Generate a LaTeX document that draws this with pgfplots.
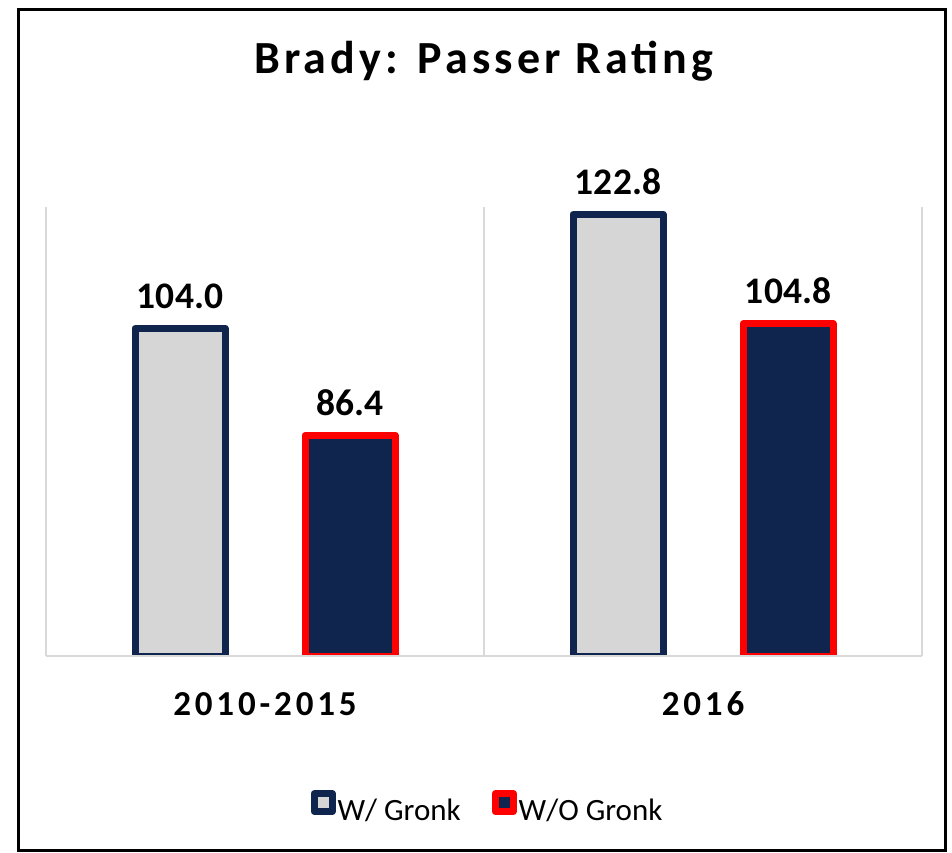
\documentclass[border=0pt]{standalone}
\usepackage{fontspec}
\setmainfont{Carlito}
\newfontfamily\spaced{Carlito}[LetterSpace=11]
\newfontfamily\titlespaced{Carlito}[LetterSpace=9]
\usepackage{pgfplots}
\usepackage{pgfplotstable}
\pgfplotsset{compat=1.18}
\definecolor{navy}{HTML}{10254E}
\definecolor{barfill}{HTML}{D6D6D6}
\definecolor{gridc}{HTML}{D9D9D9}
\pgfplotstableread{
x v
0 104.0
1 122.8
}\withgronk
\pgfplotstableread{
x v
0 86.4
1 104.8
}\withoutgronk
\begin{document}
\begin{tikzpicture}
\useasboundingbox (-46pt,-197pt) rectangle (906pt,656pt);
\draw[line width=3pt] (-27pt,646pt) rectangle (899pt,-194pt);
\begin{axis}[
  at={(0pt,0pt)}, anchor=south west,
  width=876pt, height=449pt, scale only axis,
  xmin=-0.5, xmax=1.5, ymin=0, ymax=74,
  ybar=80pt, bar width=90pt,
  axis y line=none,
  axis x line*=bottom,
  x axis line style={gridc, line width=1.5pt},
  axis on top,
  xtick={0,1}, xticklabels={2010-2015,2016},
  major tick length=0pt,
  extra x ticks={-0.5,0.5,1.5}, extra x tick labels={},
  extra x tick style={grid=major, major grid style={gridc, line width=1.5pt}},
  xticklabel style={font=\spaced\bfseries\fontsize{35}{40}\selectfont, anchor=base, yshift=-59pt, text=black},
  /pgf/number format/assume math mode=true,
  point meta=explicit,
  nodes near coords={\pgfmathprintnumber[fixed,fixed zerofill,precision=1]{\pgfplotspointmeta}},
  nodes near coords style={font=\bfseries\fontsize{37.5}{40}\selectfont, anchor=base, yshift=20pt, text=black},
  title={\titlespaced\bfseries\fontsize{46}{52}\selectfont Brady: Passer Rating},
  title style={at={(0.5,1)}, anchor=base, yshift=127pt},
  legend columns=2,
  legend style={at={(0.504,-0.336)}, anchor=center, draw=none, fill=none,
    font=\fontsize{31}{36}\selectfont,
    /tikz/every even column/.append style={column sep=29pt},
    nodes={inner sep=2pt}},
  legend cell align=left,
  legend image code/.code={\draw[#1, line width=7pt, line join=round] (3.5pt,-1.5pt) rectangle (21.5pt,16.5pt);},
]
\addplot[draw=navy, fill=barfill, line width=7pt, line join=round]
  table[x=x, y expr=\thisrow{v}-50, meta=v] {\withgronk};
\addlegendentry{W/ Gronk}
\addplot[draw=red, fill=navy, line width=7pt, line join=round]
  table[x=x, y expr=\thisrow{v}-50, meta=v] {\withoutgronk};
\addlegendentry{W/O Gronk}
\end{axis}
\end{tikzpicture}
\end{document}
